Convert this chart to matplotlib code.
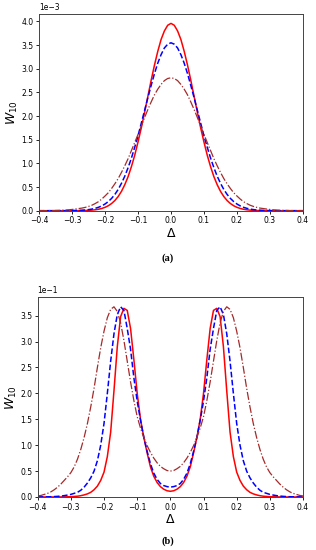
import matplotlib
matplotlib.use("Agg")
import matplotlib.pyplot as plt
import numpy as np

# Delta grid, step 0.01, both panels
delta = np.linspace(-0.4, 0.4, 81)

# panel (a): W_10 in units of 1e-3, read from Delta = 0 to 0.4 (curves are symmetric)
red_a_half = [3.96, 3.92, 3.80, 3.62, 3.37, 3.08, 2.76, 2.42, 2.08, 1.75, 1.45,
              1.17, 0.93, 0.72, 0.55, 0.41, 0.30, 0.216, 0.152, 0.105, 0.071,
              0.047, 0.030, 0.019, 0.012, 0.007, 0.004, 0.002, 0.001, 0.001,
              0, 0, 0, 0, 0, 0, 0, 0, 0, 0, 0]
blue_a_half = [3.55, 3.52, 3.44, 3.30, 3.12, 2.90, 2.65, 2.39, 2.12, 1.85, 1.58,
               1.34, 1.11, 0.91, 0.73, 0.58, 0.45, 0.345, 0.26, 0.193, 0.141,
               0.101, 0.071, 0.050, 0.034, 0.023, 0.015, 0.010, 0.006, 0.004,
               0.002, 0.001, 0, 0, 0, 0, 0, 0, 0, 0, 0]
brown_a_half = [2.81, 2.795, 2.75, 2.67, 2.57, 2.45, 2.30, 2.14, 1.97, 1.79, 1.61,
                1.44, 1.27, 1.10, 0.95, 0.81, 0.68, 0.57, 0.47, 0.38, 0.31,
                0.245, 0.19, 0.15, 0.115, 0.09, 0.07, 0.055, 0.045, 0.035,
                0.026, 0.019, 0.014, 0.010, 0.007, 0.005, 0.003, 0.002, 0.001,
                0.001, 0.0]

# panel (b): W_10 in units of 1e-1, read from Delta = -0.4 to 0
red_b_left = [0, 0, 0, 0, 0, 0, 0, 0.001, 0.002, 0.004, 0.006, 0.01, 0.015,
              0.025, 0.04, 0.06, 0.09, 0.14, 0.21, 0.32, 0.48, 0.78, 1.25,
              2.05, 2.90, 3.48, 3.64, 3.60, 3.25, 2.65, 2.00, 1.50, 1.15, 0.85,
              0.58, 0.40, 0.28, 0.20, 0.15, 0.12, 0.11]
blue_b_left = [0.0, 0.001, 0.002, 0.003, 0.005, 0.008, 0.012, 0.018, 0.026,
               0.037, 0.05, 0.07, 0.09, 0.13, 0.19, 0.27, 0.37, 0.50, 0.70,
               1.00, 1.42, 2.00, 2.62, 3.15, 3.52, 3.67, 3.60, 3.25, 2.85,
               2.30, 1.85, 1.48, 1.15, 0.88, 0.64, 0.46, 0.34, 0.26, 0.22,
               0.20, 0.19]
brown_b_left = [0.02, 0.03, 0.05, 0.07, 0.10, 0.14, 0.19, 0.25, 0.32, 0.39,
                0.47, 0.58, 0.73, 0.92, 1.15, 1.42, 1.74, 2.10, 2.50, 2.88,
                3.20, 3.46, 3.62, 3.67, 3.58, 3.36, 3.02, 2.62, 2.22, 1.86,
                1.55, 1.33, 1.15, 0.99, 0.86, 0.75, 0.66, 0.59, 0.545, 0.51,
                0.50]

red_a = red_a_half[::-1] + red_a_half[1:]
blue_a = blue_a_half[::-1] + blue_a_half[1:]
brown_a = brown_a_half[::-1] + brown_a_half[1:]
red_b = red_b_left + red_b_left[-2::-1]
blue_b = blue_b_left + blue_b_left[-2::-1]
brown_b = brown_b_left + brown_b_left[-2::-1]

xticks = [-0.4, -0.3, -0.2, -0.1, 0.0, 0.1, 0.2, 0.3, 0.4]

fig = plt.figure(figsize=(3.16, 5.5), dpi=100)
ax1 = fig.add_axes([0.1234, 0.6169, 0.8354, 0.3576])
ax2 = fig.add_axes([0.1193, 0.0964, 0.8396, 0.3631])


def panel(ax, x, ys, scale, caption, cap_y):
    ax.plot(x, np.array(ys[0]) * scale, color="red", lw=1.1)
    ax.plot(x, np.array(ys[1]) * scale, color="blue", lw=1.1, ls="--")
    ax.plot(x, np.array(ys[2]) * scale, color="brown", lw=0.9, ls="-.")
    ax.set_xlim(-0.4, 0.4)
    ax.set_ylim(bottom=0)
    ax.set_xticks(xticks)
    ax.ticklabel_format(axis="y", style="sci", scilimits=(0, 0))
    ax.yaxis.get_offset_text().set_fontsize(5.5)
    ax.tick_params(labelsize=5.5, length=2.5, width=0.6, pad=1.5)
    for s in ax.spines.values():
        s.set_linewidth(0.7)
        s.set_color("#444444")
    ax.set_xlabel(r"$\Delta$", fontsize=9, labelpad=1)
    ax.set_ylabel(r"$W_{10}$", fontsize=9, labelpad=1)
    fig.text(0.53, cap_y, caption, ha="center", va="center",
             family="Liberation Serif", weight="bold", fontsize=7.5)


panel(ax1, delta, [red_a, blue_a, brown_a], 1e-3, "(a)", 1 - 258 / 550)
panel(ax2, delta, [red_b, blue_b, brown_b], 1e-1, "(b)", 1 - 541 / 550)

fig.savefig("out.png", dpi=100)
